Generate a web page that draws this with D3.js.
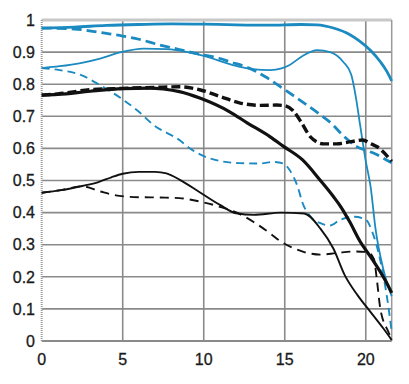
<!DOCTYPE html>
<html><head><meta charset="utf-8">
<script src="https://cdn.jsdelivr.net/npm/d3@7"></script>
<style>html,body{margin:0;padding:0;background:#fff;}svg{display:block;}</style>
</head><body>
<script>
// Data: [position, MTF value]
const xTicks = [0, 5, 10, 15, 20];
const yTicks = [0, 0.1, 0.2, 0.3, 0.4, 0.5, 0.6, 0.7, 0.8, 0.9, 1];
const yTickLabels = ["0", "0.1", "0.2", "0.3", "0.4", "0.5", "0.6", "0.7", "0.8", "0.9", "1"];

const blueThickSolid = [[0,0.975],[2,0.978],[4,0.983],[6,0.986],[8,0.988],[10,0.987],[12,0.985],[14,0.984],[16,0.986],[17,0.985],[18,0.975],[19,0.955],[19.6,0.935],[20.3,0.905],[20.9,0.87],[21.3,0.84],[21.6,0.81]];
const blueThickDashed = [[0,0.975],[2,0.972],[4,0.958],[5,0.95],[6,0.94],[7.3,0.922],[8.5,0.908],[9.8,0.893],[11,0.88],[11.6,0.87],[12.8,0.85],[13.8,0.823],[15,0.783],[16,0.748],[17,0.712],[18,0.672],[18.5,0.645],[19,0.622],[19.5,0.604],[20,0.594],[20.5,0.585],[21,0.572],[21.6,0.555]];
const blueThinSolid = [[0,0.85],[1.1,0.856],[2.4,0.866],[3.6,0.88],[4.9,0.9],[6.3,0.911],[7.7,0.909],[9,0.9],[10,0.888],[12,0.857],[13,0.847],[14.1,0.844],[14.8,0.849],[15.3,0.86],[16.1,0.888],[17,0.906],[17.8,0.9],[18.6,0.87],[19.1,0.83],[19.4,0.756],[19.65,0.673],[20,0.56],[20.3,0.48],[20.6,0.35],[21.1,0.22],[21.6,0.14]];
const blueThinDashed = [[0,0.85],[1.1,0.844],[2.4,0.829],[3.6,0.797],[4.9,0.756],[6,0.714],[6.9,0.673],[8.5,0.626],[9.2,0.598],[10,0.576],[11,0.561],[12.2,0.554],[13.5,0.553],[14.3,0.558],[14.9,0.553],[15.3,0.533],[15.8,0.48],[16.1,0.43],[16.6,0.387],[17.2,0.367],[17.8,0.36],[18.4,0.377],[19.3,0.387],[20,0.378],[20.4,0.34],[20.9,0.25],[21.3,0.14],[21.6,0.03]];
const blackThickSolid = [[0,0.766],[1,0.768],[3,0.778],[5,0.786],[6.7,0.788],[7.5,0.785],[8.5,0.777],[9.8,0.756],[11.6,0.714],[12.7,0.679],[14.1,0.636],[14.9,0.607],[16.1,0.564],[17.2,0.5],[18,0.45],[18.5,0.415],[19,0.372],[19.65,0.31],[20.3,0.262],[20.9,0.215],[21.3,0.18],[21.6,0.15]];
const blackThickDashed = [[0,0.766],[1,0.77],[3,0.783],[5,0.787],[7,0.79],[8.5,0.792],[9.8,0.782],[11,0.762],[12.2,0.742],[13.5,0.734],[14.5,0.735],[15,0.733],[15.5,0.718],[16,0.683],[16.6,0.635],[17.4,0.614],[18.2,0.614],[19.1,0.621],[19.8,0.626],[20.3,0.615],[20.7,0.605],[21.6,0.56]];
const blackThinSolid = [[0,0.462],[1.2,0.47],[2.5,0.483],[3.5,0.495],[4.3,0.51],[5,0.521],[6,0.527],[7,0.527],[7.7,0.522],[8.5,0.503],[9.8,0.462],[11,0.424],[12,0.398],[13.1,0.393],[14.75,0.4],[16.2,0.397],[17.2,0.35],[18,0.288],[18.7,0.205],[19.5,0.142],[20.3,0.09],[21.1,0.038],[21.6,0.003]];
const blackThinDashed = [[0,0.462],[1.2,0.47],[2.5,0.482],[3.6,0.466],[4.8,0.452],[6,0.448],[7.3,0.447],[8.5,0.445],[9.8,0.434],[11,0.418],[12.2,0.396],[13.1,0.37],[14.1,0.335],[14.75,0.31],[15.5,0.29],[16.2,0.277],[17.2,0.269],[18.2,0.274],[19.3,0.279],[20.1,0.277],[20.5,0.256],[20.7,0.184],[20.9,0.1],[21.4,0.028],[21.6,0.005]];

const W = 409, H = 384;
const blue = "#1b8ac1";
const series = [
  {data: blueThinDashed, color: blue, width: 1.9, dash: "8,5"},
  {data: blueThinSolid, color: blue, width: 1.8, dash: null},
  {data: blueThickDashed, color: blue, width: 2.8, dash: "10,5"},
  {data: blueThickSolid, color: blue, width: 2.8, dash: null},
  {data: blackThinDashed, color: "#111", width: 1.9, dash: "9,6"},
  {data: blackThinSolid, color: "#111", width: 1.9, dash: null},
  {data: blackThickDashed, color: "#111", width: 3.4, dash: "9,4"},
  {data: blackThickSolid, color: "#111", width: 3.2, dash: null}
];

const svg = d3.select("body").append("svg").attr("width", W).attr("height", H);
const x = d3.scaleLinear().domain([0, 21.6]).range([41.7, 391.7]);
const y = d3.scaleLinear().domain([0, 1]).range([341, 20]);

const grid = svg.append("g");
grid.selectAll("line.h").data(yTicks.filter(v => v > 0 && v < 1)).enter().append("line")
  .attr("x1", x(0)).attr("x2", x(21.6)).attr("y1", d => y(d)).attr("y2", d => y(d))
  .attr("stroke", "#8a8a8a").attr("stroke-width", 1.6);
grid.selectAll("line.v").data(xTicks.filter(v => v > 0)).enter().append("line")
  .attr("x1", d => x(d)).attr("x2", d => x(d)).attr("y1", y(1)).attr("y2", y(0))
  .attr("stroke", "#8a8a8a").attr("stroke-width", 1.6);
grid.append("line").attr("x1", x(0)).attr("x2", x(21.6)).attr("y1", y(1)).attr("y2", y(1))
  .attr("stroke", "#c8c8c8").attr("stroke-width", 3);
grid.append("line").attr("x1", x(21.6)).attr("x2", x(21.6)).attr("y1", y(1)).attr("y2", y(0))
  .attr("stroke", "#9a9a9a").attr("stroke-width", 1.5);
grid.append("line").attr("x1", x(0)).attr("x2", x(21.6)).attr("y1", y(0)).attr("y2", y(0))
  .attr("stroke", "#8a8a8a").attr("stroke-width", 1.8);
grid.append("line").attr("x1", x(0)).attr("x2", x(0)).attr("y1", y(1)).attr("y2", y(0))
  .attr("stroke", "#9a9a9a").attr("stroke-width", 2).attr("stroke-dasharray", "1,1");

const line = d3.line().x(d => x(d[0])).y(d => y(d[1])).curve(d3.curveMonotoneX);
svg.append("g").selectAll("path").data(series).enter().append("path")
  .attr("d", d => line(d.data))
  .attr("fill", "none")
  .attr("stroke", d => d.color)
  .attr("stroke-width", d => d.width)
  .attr("stroke-dasharray", d => d.dash)
  .attr("stroke-linejoin", "round");

const font = "Liberation Sans, Arial, sans-serif";
svg.append("g").selectAll("text").data(yTicks).enter().append("text")
  .attr("x", 35).attr("y", d => y(d)).attr("dy", "0.36em")
  .attr("text-anchor", "end")
  .attr("font-family", font).attr("font-size", 16)
  .attr("fill", "#1a1a1a").attr("stroke", "#1a1a1a").attr("stroke-width", 0.3)
  .text((d, i) => yTickLabels[i]);
svg.append("g").selectAll("text").data(xTicks).enter().append("text")
  .attr("x", d => x(d)).attr("y", 365)
  .attr("text-anchor", "middle")
  .attr("font-family", font).attr("font-size", 16)
  .attr("fill", "#1a1a1a").attr("stroke", "#1a1a1a").attr("stroke-width", 0.3)
  .text(d => d);
</script>
</body></html>
